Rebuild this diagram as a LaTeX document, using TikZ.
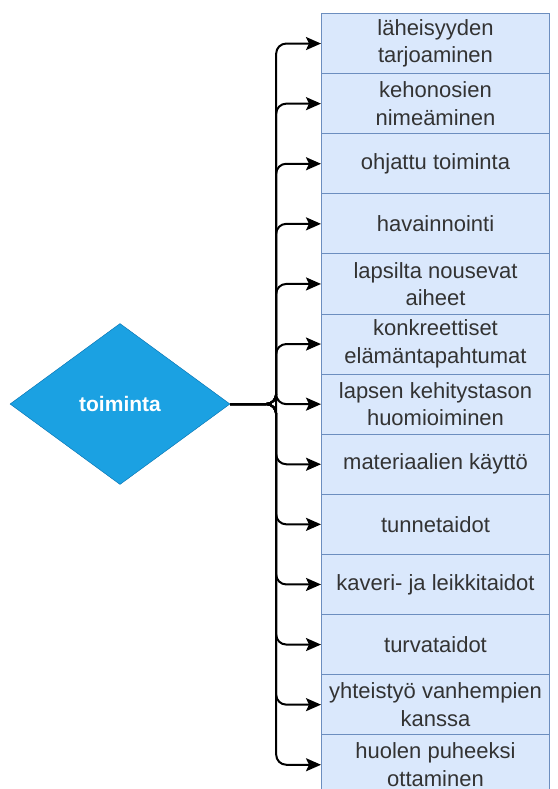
\documentclass[tikz,border=0pt]{standalone}
\usepackage{fontspec}
\setmainfont{Liberation Sans}
\usetikzlibrary{shapes.geometric,arrows.meta}
\definecolor{boxfill}{HTML}{DAE8FC}
\definecolor{boxline}{HTML}{6C8EBF}
\definecolor{dmdfill}{HTML}{1BA1E2}
\definecolor{dmdline}{HTML}{006EAF}
\definecolor{txtgray}{HTML}{333333}
\tikzset{
    itembox/.style={draw=boxline, fill=boxfill, line width=1pt, minimum width=228pt, minimum height=60.1pt,
        inner sep=0pt, align=center, text=txtgray, font=\fontsize{22}{27.5}\selectfont, anchor=north west},
    branch/.style={line width=2pt, rounded corners=10pt, -{Stealth[length=15pt,width=13pt,inset=3pt]}}
}

\begin{document}
\begin{tikzpicture}[x=1pt,y=-1pt]
                \useasboundingbox (0,0) rectangle (557,789);
                \clip (0,0) rectangle (557,789);
                \node[diamond, draw=dmdline, fill=dmdfill, minimum width=220pt, minimum height=161pt, inner sep=0pt,
                    text=white, font=\bfseries\fontsize{21}{25}\selectfont] (toiminta) at (120,404) {toiminta};
                \foreach \txt [count=\i from 0] in {läheisyyden\\tarjoaminen, kehonosien\\nimeäminen, ohjattu toiminta,
                    havainnointi, lapsilta nousevat\\aiheet, konkreettiset\\elämäntapahtumat,
                    lapsen kehitystason\\huomioiminen, materiaalien käyttö, tunnetaidot, kaveri- ja leikkitaidot,
                    turvataidot, yhteistyö vanhempien\\kanssa, huolen puheeksi\\ottaminen}
                    \node[itembox] (b\i) at (321,13+60.1*\i) {\txt};
                \foreach \i in {0,...,12}
                    \draw[branch] (toiminta.east) -- ++(46,0) |- (b\i.west);
            \end{tikzpicture}
\end{document}
